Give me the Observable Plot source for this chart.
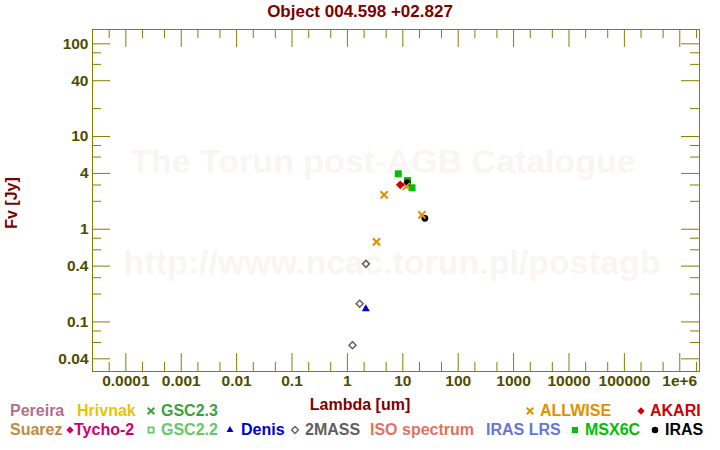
<!DOCTYPE html>
<html>
<head>
<meta charset="utf-8">
<script src="https://cdn.jsdelivr.net/npm/d3@7"></script>
<script src="https://cdn.jsdelivr.net/npm/@observablehq/plot@0.6"></script>
<style>
html,body{margin:0;padding:0;background:#fff;}
#wrap{position:relative;width:720px;height:450px;overflow:hidden;font-family:"Liberation Sans",Arial,sans-serif;}
#chart{position:absolute;left:0;top:0;}
.lbl{position:absolute;white-space:nowrap;line-height:1;font-weight:bold;}
.sym{position:absolute;overflow:visible;}
</style>
</head>
<body>
<div id="wrap"><div id="chart"></div></div>
<script>
// ---------- data ----------
const titleText = "Object 004.598 +02.827";
const xLabelText = "Lambda [um]";
const yLabelText = "Fv [Jy]";
const watermarkLines = ["The Torun post-AGB Catalogue", "http://www.ncac.torun.pl/postagb"];

const xTickValues = [1e-4, 1e-3, 1e-2, 1e-1, 1, 10, 100, 1000, 1e4, 1e5, 1e6];
const xTickLabels = ["0.0001", "0.001", "0.01", "0.1", "1", "10", "100", "1000", "10000", "100000", "1e+6"];
const xMinorTicks = [5e-5, 2e-4, 5e-4, 2e-3, 5e-3, 2e-2, 5e-2, 0.2, 0.5, 2, 5, 20, 50, 200, 500, 2000, 5000, 2e4, 5e4, 2e5, 5e5, 2e6];
const yTickValues = [100, 40, 10, 4, 1, 0.4, 0.1, 0.04];
const yTickLabels = ["100", "40", "10", "4", "1", "0.4", "0.1", "0.04"];
const yMinorTicks = [80, 60, 20, 8, 6, 3, 2, 0.8, 0.6, 0.3, 0.2, 0.08, 0.06];

const twomassLambda = [1.235, 1.662, 2.159];
const twomassFlux = [0.0561, 0.157, 0.423];
const denisLambda = [2.15];
const denisFlux = [0.138];
const msxLambda = [8.28, 12.13, 14.65];
const msxFlux = [3.96, 3.35, 2.80];
const irasLambda = [12, 25];
const irasFlux = [3.18, 1.31];
const allwiseLambda = [3.35, 4.6, 11.56, 22.09];
const allwiseFlux = [0.731, 2.35, 2.89, 1.43];
const akariLambda = [9];
const akariFlux = [3.01];

const legendNames = ["Pereira", "Hrivnak", "GSC2.3", "ALLWISE", "AKARI",
  "Suarez", "Tycho-2", "GSC2.2", "Denis", "2MASS", "ISO spectrum", "IRAS LRS", "MSX6C", "IRAS"];
const legendColors = ["#b0708c", "#e8c400", "#3f9f3f", "#e09000", "#d00000",
  "#c08a42", "#d0006a", "#66c866", "#0000c8", "#606060", "#e07262", "#6676d6", "#00c000", "#000000"];
const legendSymbols = [null, null, "times", "times", "diamond",
  null, "diamond", "squareOpen", "triangle", "diamondOpen", null, null, "square", "circle"];

// ---------- layout ----------
const W = 720, H = 450, ML = 92, MR = 21, MT = 29, MB = 79;
const FW = W - ML - MR, FH = H - MT - MB;
const axisColor = "#808000", tickLabelColor = "#4d4d00", titleColor = "#800000";
const legendRow = [0, 0, 0, 0, 0, 1, 1, 1, 1, 1, 1, 1, 1, 1];
const legendTextX = [10, 77, 161, 540, 650, 10, 74, 161, 241, 305, 370, 486, 585, 665];
const legendSymX = [0, 0, 150.5, 530, 640.5, 0, 69.5, 150.5, 230, 295, 0, 0, 575, 655];
const rowBaseline = [416.7, 435.7];
const rowSymY = [410.5, 430];

const pts = (l, f) => l.map((x, i) => ({x, y: f[i]}));
const xFmt = new Map(xTickValues.map((v, i) => [v, xTickLabels[i]]));
const yFmt = new Map(yTickValues.map((v, i) => [v, yTickLabels[i]]));

const wm = {frameAnchor: "middle", fontSize: 34, fontWeight: "bold", fill: "#f9f6f2", text: d => d};
const tl = {fontSize: 15.5, fontWeight: "bold", fill: tickLabelColor};

const chart = Plot.plot({
  width: W, height: H,
  marginLeft: ML, marginRight: MR, marginTop: MT, marginBottom: MB,
  style: {background: "#fff", fontFamily: '"Liberation Sans", Arial, sans-serif', overflow: "visible"},
  x: {type: "log", domain: [2.5e-5, 2.27e6], axis: null},
  y: {type: "log", domain: [0.0292, 142.7], axis: null},
  marks: [
    Plot.text([watermarkLines[0]], {...wm, dx: -13, dy: -38}),
    Plot.text([watermarkLines[1]], {...wm, dx: -4, dy: 63}),
    Plot.tickX(xTickValues, {x: d => d, stroke: axisColor, insetTop: FH - 18}),
    Plot.tickX(xTickValues, {x: d => d, stroke: axisColor, insetBottom: FH - 18}),
    Plot.tickX(xMinorTicks, {x: d => d, stroke: axisColor, insetTop: FH - 9}),
    Plot.tickX(xMinorTicks, {x: d => d, stroke: axisColor, insetBottom: FH - 9}),
    Plot.tickY(yTickValues, {y: d => d, stroke: axisColor, insetRight: FW - 18}),
    Plot.tickY(yTickValues, {y: d => d, stroke: axisColor, insetLeft: FW - 18}),
    Plot.tickY(yMinorTicks, {y: d => d, stroke: axisColor, insetRight: FW - 9}),
    Plot.tickY(yMinorTicks, {y: d => d, stroke: axisColor, insetLeft: FW - 9}),
    Plot.frame({stroke: axisColor}),
    Plot.text(xTickValues, {...tl, x: d => d, text: d => xFmt.get(d), frameAnchor: "bottom", lineAnchor: "top", dy: 3}),
    Plot.text(yTickValues, {...tl, y: d => d, text: d => yFmt.get(d), frameAnchor: "left", textAnchor: "end", dx: -4}),
    Plot.dot(pts(twomassLambda, twomassFlux), {x: "x", y: "y", symbol: "diamond2", r: 3.15, stroke: legendColors[9], strokeWidth: 1.5, fill: "none"}),
    Plot.dot(pts(denisLambda, denisFlux), {x: "x", y: "y", symbol: "triangle2", r: 3.8, fill: legendColors[8]}),
    Plot.dot(pts(msxLambda, msxFlux), {x: "x", y: "y", symbol: "square", r: 3.95, fill: legendColors[12]}),
    Plot.dot(pts(irasLambda, irasFlux), {x: "x", y: "y", symbol: "circle", r: 3.4, fill: legendColors[13]}),
    Plot.dot(pts(allwiseLambda, allwiseFlux), {x: "x", y: "y", symbol: "times", r: 3.4, stroke: legendColors[3], strokeWidth: 2}),
    Plot.dot(pts(akariLambda, akariFlux), {x: "x", y: "y", symbol: "diamond2", r: 4.0, fill: legendColors[4]})
  ]
});
document.getElementById("chart").appendChild(chart);

// ---------- HTML texts ----------
const wrap = document.getElementById("wrap");
function addText(txt, css) {
  const d = document.createElement("div");
  d.className = "lbl";
  d.textContent = txt;
  Object.assign(d.style, css);
  wrap.appendChild(d);
  return d;
}
addText(titleText, {left: "0px", width: W + "px", textAlign: "center", top: "2.9px", fontSize: "17px", color: titleColor});
addText(xLabelText, {left: "0px", width: W + "px", textAlign: "center", top: "396.5px", fontSize: "16px", color: titleColor});
addText(yLabelText, {left: "-38.5px", width: "100px", height: "16px", textAlign: "center", top: "195px", fontSize: "16px", color: titleColor, transform: "rotate(-90deg)"});

const symDefs = {
  times: {type: d3.symbolTimes, size: 30, fill: "none", sw: 2},
  diamond: {type: d3.symbolDiamond2, size: 34, fill: "c", sw: 0},
  squareOpen: {type: d3.symbolSquare2, size: 34, fill: "none", sw: 1.8},
  triangle: {type: d3.symbolTriangle2, size: 34, fill: "c", sw: 0},
  diamondOpen: {type: d3.symbolDiamond2, size: 30, fill: "none", sw: 1.4},
  square: {type: d3.symbolSquare, size: 36, fill: "c", sw: 0},
  circle: {type: d3.symbolCircle, size: 34, fill: "c", sw: 0}
};
const svgNS = "http://www.w3.org/2000/svg";
legendNames.forEach((name, i) => {
  const r = legendRow[i];
  addText(name, {left: legendTextX[i] + "px", top: (rowBaseline[r] - 13.5) + "px", fontSize: "16px", color: legendColors[i]});
  const s = legendSymbols[i];
  if (s) {
    const def = symDefs[s];
    const svg = document.createElementNS(svgNS, "svg");
    svg.setAttribute("class", "sym");
    svg.setAttribute("width", 16);
    svg.setAttribute("height", 16);
    svg.style.left = (legendSymX[i] - 8) + "px";
    svg.style.top = (rowSymY[r] - 8) + "px";
    const p = document.createElementNS(svgNS, "path");
    p.setAttribute("d", d3.symbol(def.type, def.size)());
    p.setAttribute("transform", "translate(8,8)");
    if (def.fill === "c") { p.setAttribute("fill", legendColors[i]); p.setAttribute("stroke", "none"); }
    else { p.setAttribute("fill", "none"); p.setAttribute("stroke", legendColors[i]); p.setAttribute("stroke-width", def.sw); }
    svg.appendChild(p);
    wrap.appendChild(svg);
  }
});
</script>
</body>
</html>
